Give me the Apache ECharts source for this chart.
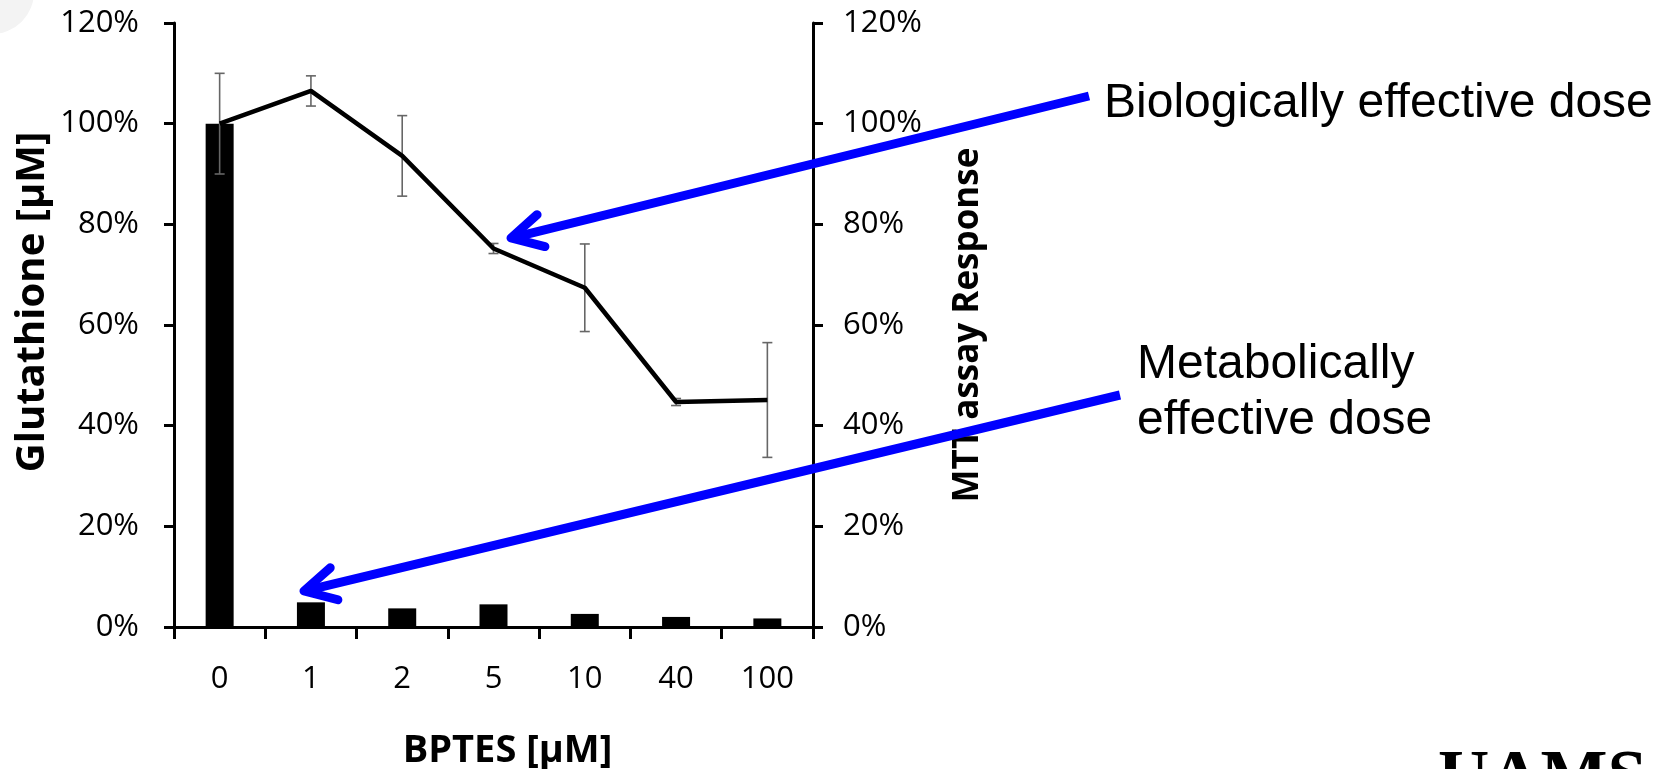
<!DOCTYPE html>
<html><head><meta charset="utf-8">
<script src="https://cdn.jsdelivr.net/npm/echarts@6/dist/echarts.min.js"></script>
<style>html,body{margin:0;padding:0;background:#fff}#c{width:1669px;height:769px}</style>
</head><body><div id="c"></div>
<script>
// ---- data ----
const categories = ['0', '1', '2', '5', '10', '40', '100'];
const glutathione = [100, 4.9, 3.7, 4.5, 2.6, 2.0, 1.7];      // % (left axis, bars)
const mttResponse = [100, 106.5, 93.6, 75.2, 67.4, 44.7, 45.1]; // % (right axis, line)
const mttError = [10, 3, 8, 1, 8.7, 0.7, 11.4];                 // +/- %
const yTicks = [0, 20, 40, 60, 80, 100, 120];

const chart = echarts.init(document.getElementById('c'), null, {renderer: 'canvas'});

const tickFont = {fontFamily: 'Open Sans', fontSize: 31, color: '#000'};
const titleFont = {fontFamily: 'Open Sans', fontSize: 38, fontWeight: 'bold', color: '#000'};
const axisLineStyle = {color: '#000', width: 3};

function arrow(tail, tip, len, ang) {
  const dx = tail[0] - tip[0], dy = tail[1] - tip[1];
  const L = Math.hypot(dx, dy);
  const ux = dx / L, uy = dy / L;
  const rot = (a) => [tip[0] + len * (ux * Math.cos(a) - uy * Math.sin(a)),
                      tip[1] + len * (ux * Math.sin(a) + uy * Math.cos(a))];
  const a1 = rot(ang), a2 = rot(-ang);
  return [
    {type: 'line', z: 100, shape: {x1: tail[0], y1: tail[1], x2: tip[0] + ux * 3, y2: tip[1] + uy * 3},
     style: {stroke: '#0000ff', lineWidth: 9, lineCap: 'butt'}},
    {type: 'polyline', z: 100, shape: {points: [a1, tip, a2]},
     style: {stroke: '#0000ff', lineWidth: 9, lineCap: 'round', lineJoin: 'round', fill: null}}
  ];
}

const errData = mttResponse.map((v, i) => [i, v - mttError[i], v + mttError[i]]);

const option = {
  animation: false,
  backgroundColor: '#fff',
  grid: {left: 174, right: 856, top: 23, bottom: 142, containLabel: false, outerBoundsMode: 'none'},
  xAxis: {
    type: 'category', data: categories, boundaryGap: true,
    axisLine: {lineStyle: axisLineStyle},
    axisTick: {show: true, length: 12, lineStyle: axisLineStyle},
    axisLabel: Object.assign({margin: 37, interval: 0}, tickFont),
    name: 'BPTES [µM]', nameLocation: 'middle', nameGap: 105,
    nameTextStyle: Object.assign({padding: [0, 0, 0, 28]}, titleFont)
  },
  yAxis: [
    {
      type: 'value', position: 'left', min: 0, max: 120, interval: 20,
      axisLine: {show: true, lineStyle: axisLineStyle},
      axisTick: {show: true, length: 10, lineStyle: axisLineStyle},
      splitLine: {show: false},
      axisLabel: Object.assign({margin: 35, formatter: '{value}%'}, tickFont),
      name: 'Glutathione [µM]', nameLocation: 'middle', nameGap: 121, nameRotate: 90,
      nameTextStyle: Object.assign({}, titleFont, {fontSize: 40, padding: [0, 0, 0, 46]})
    },
    {
      type: 'value', position: 'right', min: 0, max: 120, interval: 20,
      axisLine: {show: true, lineStyle: axisLineStyle},
      axisTick: {show: true, length: 10, lineStyle: axisLineStyle},
      splitLine: {show: false},
      axisLabel: Object.assign({margin: 30, formatter: '{value}%'}, tickFont),
      name: 'MTT assay Response', nameLocation: 'middle', nameGap: 138, nameRotate: 90,
      nameTextStyle: Object.assign({}, titleFont, {fontSize: 35})
    }
  ],
  series: [
    {
      name: 'Glutathione', type: 'bar', data: glutathione, yAxisIndex: 0,
      barWidth: 28, itemStyle: {color: '#000'}, z: 2
    },
    {
      name: 'MTT error', type: 'custom', yAxisIndex: 1, data: errData, z: 3,
      encode: {x: 0, y: [1, 2]},
      renderItem: function (params, api) {
        const i = api.value(0);
        const lo = api.coord([i, api.value(1)]);
        const hi = api.coord([i, api.value(2)]);
        const h = 5;
        const st = {stroke: '#666', lineWidth: 1.6};
        return {type: 'group', children: [
          {type: 'line', shape: {x1: lo[0], y1: lo[1], x2: hi[0], y2: hi[1]}, style: st},
          {type: 'line', shape: {x1: lo[0] - h, y1: lo[1], x2: lo[0] + h, y2: lo[1]}, style: st},
          {type: 'line', shape: {x1: hi[0] - h, y1: hi[1], x2: hi[0] + h, y2: hi[1]}, style: st}
        ]};
      }
    },
    {
      name: 'MTT assay Response', type: 'line', data: mttResponse, yAxisIndex: 1,
      showSymbol: false, symbol: 'none', z: 4,
      lineStyle: {color: '#000', width: 4.5}
    }
  ],
  graphic: [
    {type: 'circle', z: -1, shape: {cx: -8, cy: -8, r: 42}, style: {fill: '#f3f3f3'}},
    ...arrow([1089, 96], [511, 238], 35, 28 * Math.PI / 180),
    ...arrow([1120, 395], [304, 591], 35, 28 * Math.PI / 180),
    {type: 'text', z: 101, x: 1104, y: 104,
     style: {text: 'Biologically effective dose', fontFamily: 'Liberation Sans', fontSize: 48,
             fill: '#000', textVerticalAlign: 'middle', verticalAlign: 'middle'}},
    {type: 'text', z: 101, x: 1137, y: 365,
     style: {text: 'Metabolically', fontFamily: 'Liberation Sans', fontSize: 48,
             fill: '#000', textVerticalAlign: 'middle', verticalAlign: 'middle'}},
    {type: 'text', z: 101, x: 1137, y: 421,
     style: {text: 'effective dose', fontFamily: 'Liberation Sans', fontSize: 48,
             fill: '#000', textVerticalAlign: 'middle', verticalAlign: 'middle'}},
    {type: 'text', z: 101, x: 1438, y: 781,
     style: {text: 'UAMS', fontFamily: 'Liberation Serif', fontWeight: 'bold', fontSize: 71,
             fill: '#000', textVerticalAlign: 'middle', verticalAlign: 'middle'}}
  ]
};
chart.setOption(option);
</script>
</body></html>
